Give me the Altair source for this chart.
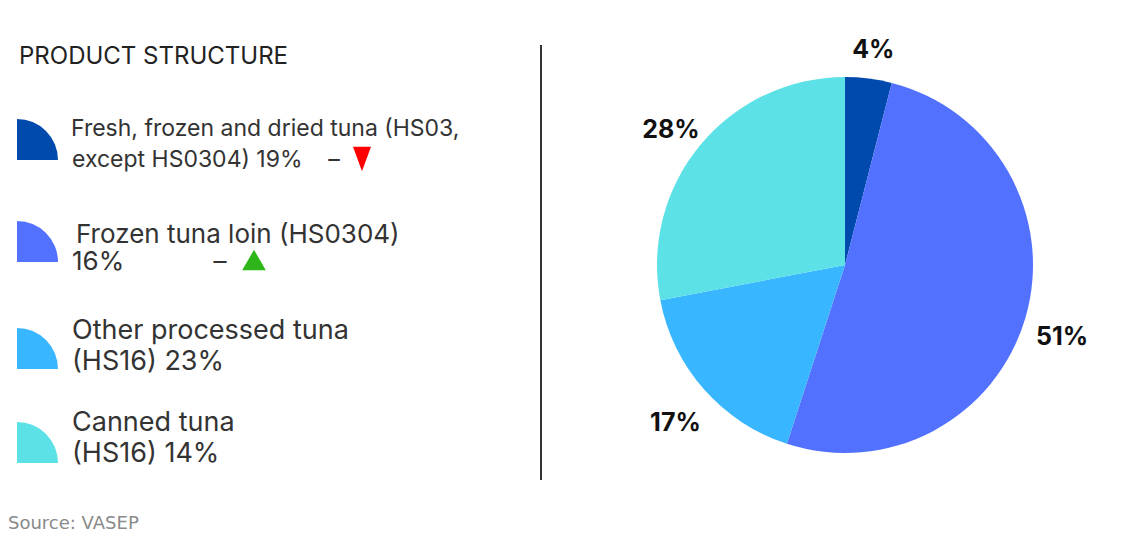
import altair as alt
import pandas as pd
import math

# ---- data ----
categories = [
    "Fresh, frozen and dried tuna",
    "Frozen tuna loin",
    "Other processed tuna",
    "Canned tuna",
]
shares = [4, 51, 17, 28]
colors = ["#004AAD", "#5271FF", "#38B6FF", "#5CE1E6"]
legend_line1 = [
    "Fresh, frozen and dried tuna (HS03,",
    "Frozen tuna loin (HS0304)",
    "Other processed tuna",
    "Canned tuna",
]
legend_line2 = [
    "except HS0304) 19%",
    "16%",
    "(HS16) 23%",
    "(HS16) 14%",
]
trend = ["down", "up", None, None]
title_text = "PRODUCT STRUCTURE"
source_text = "Source: VASEP"

# ---- layout (chart coords = page coords - 8) ----
W, H = 1112, 535
PIE_X, PIE_Y, PIE_R, LABEL_R = 837, 257, 188, 226
ICON_X = 9
ICON_Y = [152, 254, 361, 455]
LINE1_Y = [128, 235, 331, 423]
LINE2_Y = [159, 262, 362, 454]
LINE1_X = [63, 68, 64, 64]
LINE_SIZE = [23, 26, 27, 27]
DASH_X = [326, 212]
TRI_XY = [(354, 151), (246, 252)]
FONT = "Inter"

blank = alt.Data(values=[{"a": 1}])

df = pd.DataFrame({
    "category": categories,
    "share": shares,
    "idx": list(range(len(categories))),
    "label": [f"{s}%" for s in shares],
})

pie = alt.Chart(df).mark_arc(x=PIE_X, y=PIE_Y, outerRadius=PIE_R, strokeWidth=0).encode(
    theta=alt.Theta("share:Q", stack=True),
    color=alt.Color("category:N", scale=alt.Scale(domain=categories, range=colors), legend=None),
    order=alt.Order("idx:Q"),
)

pie_labels = alt.Chart(df).mark_text(
    x=PIE_X, y=PIE_Y, radius=LABEL_R, dy=9, font=FONT, fontSize=25, fontWeight="bold", color="#111111"
).encode(
    theta=alt.Theta("share:Q", stack=True),
    order=alt.Order("idx:Q"),
    text="label:N",
)

layers = [pie, pie_labels]

# title
layers.append(
    alt.Chart(blank).mark_text(
        x=11, y=56, align="left", baseline="alphabetic", font=FONT, fontSize=24, color="#222222"
    ).encode(text=alt.value(title_text))
)

# separator
layers.append(
    alt.Chart(blank).mark_rule(color="#333333", strokeWidth=2).encode(
        x=alt.value(533), y=alt.value(37), y2=alt.value(472)
    )
)

# legend items
for i, cat in enumerate(categories):
    layers.append(
        alt.Chart(blank).mark_arc(
            x=ICON_X, y=ICON_Y[i], outerRadius=41, theta=0, theta2=math.pi / 2
        ).encode(color=alt.value(colors[i]))
    )
    layers.append(
        alt.Chart(blank).mark_text(
            x=LINE1_X[i], y=LINE1_Y[i], align="left", baseline="alphabetic",
            font=FONT, fontSize=LINE_SIZE[i], color="#333333"
        ).encode(text=alt.value(legend_line1[i]))
    )
    layers.append(
        alt.Chart(blank).mark_text(
            x=64, y=LINE2_Y[i], align="left", baseline="alphabetic",
            font=FONT, fontSize=LINE_SIZE[i], color="#333333"
        ).encode(text=alt.value(legend_line2[i]))
    )

# trend markers
down_path = "M-1,-1.35L1,-1.35L0,1.35Z"
for j, t in enumerate([t for t in trend if t]):
    layers.append(
        alt.Chart(blank).mark_text(
            x=DASH_X[j], y=LINE2_Y[j], align="center", baseline="alphabetic",
            font=FONT, fontSize=LINE_SIZE[j], color="#333333"
        ).encode(text=alt.value("–"))
    )
    tx, ty = TRI_XY[j]
    layers.append(
        alt.Chart(blank).mark_point(
            x=tx, y=ty, filled=True,
            shape=down_path if t == "down" else "triangle-up",
            size=324 if t == "down" else 560,
            color="#FF0000" if t == "down" else "#2DB51A",
        ).encode(opacity=alt.value(1))
    )

# source
layers.append(
    alt.Chart(blank).mark_text(
        x=0, y=521, align="left", baseline="alphabetic", font="DejaVu Sans", fontSize=18, color="#8a8a8a"
    ).encode(text=alt.value(source_text))
)

chart = alt.layer(*layers).properties(
    width=W, height=H, padding=0, background="#ffffff",
    autosize=alt.AutoSizeParams(type="none"),
).configure_view(strokeWidth=0, stroke="transparent")

chart.save("out.html", embed_options={"renderer": "svg", "actions": False})
